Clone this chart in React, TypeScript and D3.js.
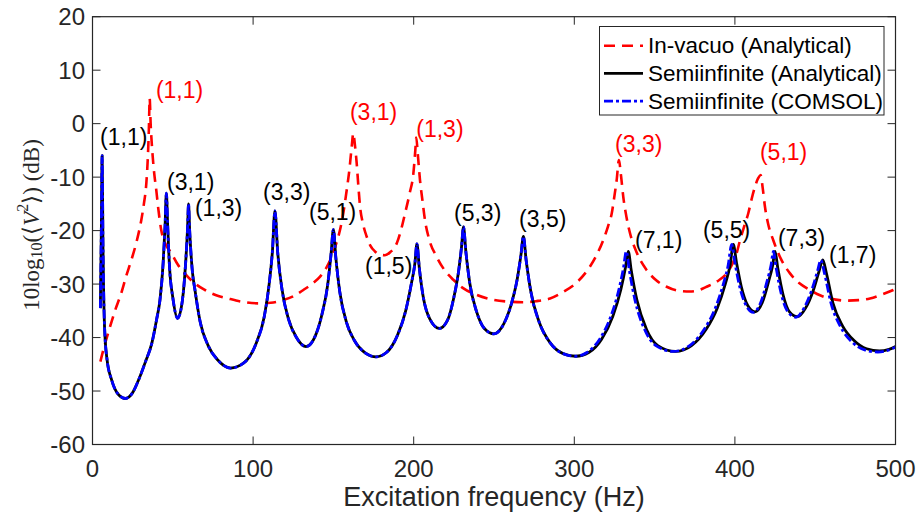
import React from 'react';
import * as d3 from 'd3';

const xTicks = [0, 100, 200, 300, 400, 500];
const yTicks = [-60, -50, -40, -30, -20, -10, 0, 10, 20];

const legendLabels = ['In-vacuo (Analytical)', 'Semiinfinite (Analytical)', 'Semiinfinite (COMSOL)'];

const inVacuo: [number, number][] = [
  [4.9, -44.5], [7, -42], [9.7, -39.2], [14, -35], [17.9, -31.7], [21, -28.5], [24.2, -25.5], [27.5, -22],
  [30.4, -18], [32, -15], [33.5, -11.2], [34.5, -6], [35.1, -1], [35.6, 4.7], [36.2, 0], [37.2, -5],
  [38.5, -9.5], [39.7, -12.4], [41, -16], [42.8, -19.9], [45.5, -22.5], [49.1, -24.2], [53, -26.3],
  [57.4, -28], [63, -29.7], [69.9, -31.1], [77, -32.1], [84.4, -32.7], [93, -33.3], [103, -33.6],
  [111, -33.5], [118.8, -33], [125, -32.3], [131.3, -31.1], [136.5, -30], [141.7, -28.6], [145.5, -27],
  [148.9, -24.9], [151.7, -22.5], [154.1, -19.9], [156.3, -16.5], [158.3, -12.4], [160, -8.5],
  [161.4, -4.3], [162.4, -1.8], [163.4, -4], [164.5, -7.4], [165.5, -11.5], [166.6, -15.5],
  [168.5, -18.8], [170.7, -21.1], [173, -22.8], [175.9, -23.9], [179, -24.5], [182.1, -24.6],
  [185.5, -24], [189.4, -22.4], [192, -20], [194.6, -16.8], [197.5, -13], [199.8, -9.3], [201, -5],
  [201.6, -2.6], [202.5, -5.5], [203.9, -10.5], [205.5, -14.5], [207, -18], [209.5, -21.5],
  [214.3, -24.9], [219, -27.3], [224.7, -29.2], [231, -30.8], [239.2, -32], [249, -32.9], [260, -33.3],
  [268, -33.4], [276, -33.2], [284.9, -32.7], [293, -31.5], [301.5, -29.7], [309.8, -26.7], [314, -24.5],
  [318, -21.8], [321, -19.2], [323.3, -16.8], [325, -13.5], [326.4, -10.5], [327.8, -6.8], [329, -9.5],
  [330.5, -13.7], [332.5, -17.5], [334.7, -20.5], [339, -24.2], [345.1, -27.4], [351, -29.3],
  [357.5, -30.5], [364, -31.2], [372, -31.4], [378, -31.1], [382.4, -30.5], [389, -29.5], [394.9, -28],
  [398.5, -26.2], [401.1, -24.2], [403.2, -21.8], [406, -19], [408.3, -16.8], [410.5, -14],
  [412.5, -11.8], [414.5, -10.2], [416, -9.6], [417.3, -12], [418.7, -15.5], [420.5, -18.5],
  [423.9, -21.8], [428.5, -25.2], [434.3, -28], [440, -29.8], [446.8, -31.1], [453, -32.1],
  [459.2, -32.7], [469.6, -33.1], [477, -33], [484.1, -32.7], [492, -31.9], [498.6, -31.1], [500, -30.9],
];

const semiAnalytical: [number, number][] = [
  [4.9, -34.5], [5.5, -20], [6.0, -6], [6.5, -22], [7.5, -38], [9, -44], [12, -48], [16, -50.6],
  [20.5, -51.4], [25, -50.3], [29, -47.7], [33, -44.5], [37, -41], [40, -36.5], [42, -33], [44, -26],
  [45.2, -19], [46, -13], [46.8, -19], [48, -27], [50, -32.5], [53, -36.4], [56, -33], [58, -26],
  [59.2, -19.5], [59.8, -15], [60.5, -20], [62, -27], [64, -31.5], [67, -37], [72, -41.5], [78, -44.2],
  [86, -45.7], [94, -44.8], [102, -41], [107, -36], [110, -30], [112, -24], [113.6, -16.3],
  [115.3, -24], [118, -31], [122, -36.5], [127, -40], [133, -41.7], [139, -39.5], [143, -35.5],
  [146.5, -30], [148.5, -24.5], [150, -19.8], [151.5, -25], [154, -31.5], [158, -37], [163, -40.5],
  [170, -42.9], [176.5, -43.6], [183, -42.8], [190, -39.5], [195, -35], [198.5, -30], [200.8, -26],
  [202, -22.5], [203.5, -27], [206, -32.5], [210, -36.5], [216, -38.3], [221, -36.8], [225, -32.5],
  [228, -27.5], [229.8, -23], [231, -19.3], [232.5, -24], [235, -30], [239, -35], [244, -38.3],
  [250, -39.3], [256, -37.5], [261, -33.5], [264.5, -29], [266.8, -24.5], [268.3, -21.1], [270, -25.5],
  [273, -31.5], [278, -37], [285, -41], [293, -43], [301, -43.5], [309, -42.8], [317, -40.3],
  [324, -36], [329, -31], [331.8, -27], [333.6, -23.9], [335.5, -27.5], [339, -33], [345, -38.5],
  [352, -41.5], [363, -42.6], [373, -41.5], [382, -38.5], [389, -34.5], [394, -30], [397, -26.5],
  [399, -22.6], [401, -26], [404, -30.5], [408, -34], [412.5, -35.2], [417, -33.5], [421, -29.5],
  [423.5, -26.5], [425, -23.9], [426.7, -27], [430, -32], [434, -35.2], [439, -36.1], [444, -34.5],
  [449, -31], [452.5, -27.5], [454.7, -25.5], [457, -28], [461, -33.5], [467, -37.8], [474, -40.5],
  [482, -42.1], [490, -42.5], [496, -42.2], [500, -41.7],
];

const semiComsol: [number, number][] = [
  [4.9, -34.5], [5.5, -20], [6.0, -6], [6.5, -22], [7.5, -38], [9, -44], [12, -48], [16, -50.6],
  [20.5, -51.4], [25, -50.3], [29, -47.7], [33, -44.5], [37, -41], [40, -36.5], [42, -33], [44, -26],
  [45.2, -19], [46, -13], [46.8, -19], [48, -27], [50, -32.5], [53, -36.4], [56, -33], [58, -26],
  [59.2, -19.5], [59.8, -15], [60.5, -20], [62, -27], [64, -31.5], [67, -37], [72, -41.5], [78, -44.2],
  [86, -45.7], [94, -44.8], [102, -41], [107, -36], [110, -30], [112, -24], [113.6, -16.3],
  [115.3, -24], [118, -31], [122, -36.5], [127, -40], [133, -41.7], [139, -39.5], [143, -35.5],
  [146.5, -30], [148.5, -24.5], [150, -19.8], [151.5, -25], [154, -31.5], [158, -37], [163, -40.5],
  [170, -42.9], [176.5, -43.6], [183, -42.8], [190, -39.5], [195, -35], [198.5, -30], [200.8, -26],
  [202, -22.5], [203.5, -27], [206, -32.5], [210, -36.5], [216, -38.3], [221, -36.8], [225, -32.5],
  [228, -27.5], [229.8, -23], [231, -19.3], [232.5, -24], [235, -30], [239, -35], [244, -38.3],
  [250, -39.3], [256, -37.5], [261, -33.5], [264.5, -29], [266.8, -24.5], [268.3, -21.1], [270, -25.5],
  [273, -31.5], [278, -37], [285, -41], [293, -43], [301, -43.5], [307.8, -42.8], [315.8, -40.3],
  [322.8, -36], [327.8, -31], [330.6, -27], [332.4, -23.9], [334.3, -27.5], [337.8, -33], [343.8, -38.5],
  [350.8, -41.5], [361.8, -42.6], [371.8, -41.5], [380.8, -38.5], [387.8, -34.5], [392.8, -30],
  [395.8, -26.5], [398, -22.6], [400, -26], [403, -30.5], [407, -34], [411.5, -35.3], [416, -33.5],
  [420, -29.5], [422.5, -26.5], [424, -23.9], [425.7, -27], [429, -32], [433, -35.2], [438, -36.2],
  [443, -34.5], [448, -31], [451.5, -27.5], [453.5, -25.5], [455.8, -28], [459.8, -33.5], [465.8, -38],
  [472.8, -40.8], [480.8, -42.3], [489, -42.7], [495, -42.4], [500, -41.8],
];

// mode labels: [text, frequency (Hz), level (dB)] — left edge / vertical centre
const semiModeLabels: [string, number, number][] = [
  ['(1,1)', 4.7, -2.5], ['(3,1)', 46.4, -10.9], ['(1,3)', 63.8, -15.8], ['(3,3)', 106.2, -12.8],
  ['(5,1)', 134.8, -16.5], ['(1,5)', 169.7, -26.6], ['(5,3)', 225.1, -16.8], ['(3,5)', 265.6, -17.9],
  ['(7,1)', 337.8, -21.8], ['(5,5)', 380.1, -19.9], ['(7,3)', 426.8, -21.4], ['(1,7)', 458.6, -24.6],
];
const vacuoModeLabels: [string, number, number][] = [
  ['(1,1)', 39.5, 6.3], ['(3,1)', 160.3, 2.2], ['(1,3)', 201.6, -1.0], ['(3,3)', 325.4, -3.8],
  ['(5,1)', 415.6, -5.3],
];

const W = 919;
const H = 522;
const L = 92.5, R = 895.5, T = 16.7, B = 444.5;
const FONT = '"Liberation Sans", Arial, Helvetica, sans-serif';
const AX = '#262626';

export default function App() {
  const x = d3.scaleLinear().domain([0, 500]).range([L, R]);
  const y = d3.scaleLinear().domain([-60, 20]).range([B, T]);
  const line = d3.line<[number, number]>().x(d => x(d[0])).y(d => y(d[1])).curve(d3.curveMonotoneX);

  const series = [
    { data: inVacuo, color: '#ff0000', dash: '11 7', width: 2.6 },
    { data: semiAnalytical, color: '#000000', dash: undefined, width: 2.8 },
    { data: semiComsol, color: '#0000ff', dash: '9 3 3 3', width: 2.8 },
  ];

  const tickLen = 8;
  return (
    <svg width={W} height={H} style={{ position: 'absolute', left: 0, top: 0, background: '#fff' }}>
      <rect x={0} y={0} width={W} height={H} fill="#fff" />
      <defs>
        <clipPath id="plotclip">
          <rect x={L} y={T} width={R - L} height={B - T} />
        </clipPath>
      </defs>
      <g clipPath="url(#plotclip)">
        {series.map((s, i) => (
          <path key={i} d={line(s.data) || ''} fill="none" stroke={s.color} strokeWidth={s.width}
            strokeDasharray={s.dash} strokeLinejoin="round" />
        ))}
      </g>
      {/* axes box */}
      <rect x={L} y={T} width={R - L} height={B - T} fill="none" stroke={AX} strokeWidth={1.2} />
      {xTicks.map(t => (
        <g key={'x' + t}>
          <line x1={x(t)} x2={x(t)} y1={B} y2={B - tickLen} stroke={AX} />
          <line x1={x(t)} x2={x(t)} y1={T} y2={T + tickLen} stroke={AX} />
          <text x={x(t)} y={468} textAnchor="middle" dominantBaseline="central" fontFamily={FONT}
            fontSize={24} fill={AX}>{t}</text>
        </g>
      ))}
      {yTicks.map(t => (
        <g key={'y' + t}>
          <line x1={L} x2={L + tickLen} y1={y(t)} y2={y(t)} stroke={AX} />
          <line x1={R} x2={R - tickLen} y1={y(t)} y2={y(t)} stroke={AX} />
          <text x={85} y={y(t)} textAnchor="end" dominantBaseline="central" fontFamily={FONT}
            fontSize={24} fill={AX}>{t}</text>
        </g>
      ))}
      <text x={(L + R) / 2} y={497} textAnchor="middle" dominantBaseline="central" fontFamily={FONT}
        fontSize={27} fill={AX}>Excitation frequency (Hz)</text>
      <text transform={`translate(31,225) rotate(-90)`} textAnchor="middle" dominantBaseline="central"
        fontFamily='"Liberation Serif", "Times New Roman", serif' fontSize={23} fill={AX}>
        <tspan>10log</tspan>
        <tspan fontSize={16} dy={5}>10</tspan>
        <tspan dy={-5}>(⟨</tspan>
        <tspan fontStyle="italic">V</tspan>
        <tspan fontSize={16} dy={-9}>2</tspan>
        <tspan dy={9}>⟩) (dB)</tspan>
      </text>
      {semiModeLabels.map(([t, f, v], i) => (
        <text key={'s' + i} x={x(f)} y={y(v)} dominantBaseline="central" fontFamily={FONT}
          fontSize={23} fill="#000">{t}</text>
      ))}
      {vacuoModeLabels.map(([t, f, v], i) => (
        <text key={'v' + i} x={x(f)} y={y(v)} dominantBaseline="central" fontFamily={FONT}
          fontSize={23} fill="#ff0000">{t}</text>
      ))}
      {/* legend */}
      <g>
        <rect x={599.5} y={26.5} width={284.5} height={88.5} fill="#fff" stroke={AX} strokeWidth={1} />
        {legendLabels.map((lab, i) => {
          const ly = 45.7 + i * 27.7;
          const s = series[i];
          return (
            <g key={lab}>
              <line x1={604} x2={643} y1={ly} y2={ly} stroke={s.color} strokeWidth={s.width}
                strokeDasharray={s.dash} />
              <text x={648} y={ly} dominantBaseline="central" fontFamily={FONT} fontSize={22.5}
                fill="#000">{lab}</text>
            </g>
          );
        })}
      </g>
    </svg>
  );
}
